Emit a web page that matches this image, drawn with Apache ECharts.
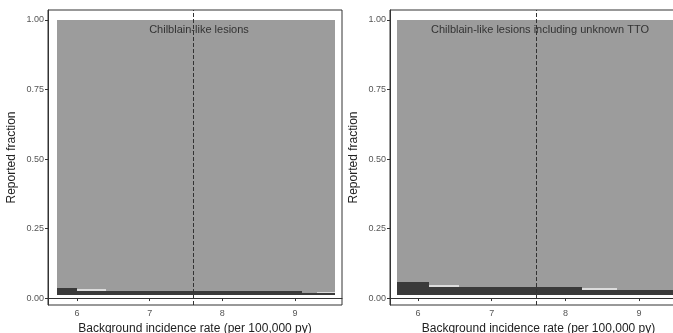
<!DOCTYPE html>
<html>
<head>
<meta charset="utf-8">
<script src="https://cdn.jsdelivr.net/npm/echarts@6/dist/echarts.min.js"></script>
<style>html,body{margin:0;padding:0;background:#fff}#c{width:673px;height:333px}</style>
</head>
<body>
<div id="c"></div>
<script>
// Panel titles
const panelTitles = ["Chilblain-like lesions", "Chilblain-like lesions including unknown TTO"];
const xTicks = [6, 7, 8, 9];
const yTicks = [0, 0.25, 0.5, 0.75, 1];
const refLine = 7.6;
const fillBase = 0.01;

// Left panel: step edges (n+1) and band top levels per step (n)
const edgesA = [5.72, 6.0, 6.4, 9.1, 9.3, 9.55];
const grayA = [1, 1, 1, 1, 1];
const lightA = [0.036, 0.033, 0.025, 0.018, 0.022];
const darkA = [0.036, 0.025, 0.025, 0.018, 0.018];

// Right panel
const edgesB = [5.71, 6.15, 6.55, 8.22, 8.7, 9.55];
const grayB = [1, 1, 1, 1, 1];
const lightB = [0.057, 0.047, 0.039, 0.036, 0.029];
const darkB = [0.057, 0.039, 0.039, 0.029, 0.029];

const FONT = "Liberation Sans";
// each step i spans [edges[i], edges[i+1]] from fillBase up to ys[i]
const steps = (edges, ys) => ys.map((y, i) => [edges[i], edges[i + 1], fillBase, y]);

function axes(idx, xmin, xmax) {
  return {
    x: {
      type: 'value', gridIndex: idx, min: xmin, max: xmax,
      name: 'Background incidence rate (per 100,000 py)', nameLocation: 'middle', nameGap: 13,
      nameTextStyle: {fontFamily: FONT, fontSize: 12, color: '#222'},
      axisLine: {show: true, lineStyle: {color: '#333'}},
      axisTick: {show: true, length: 3, customValues: xTicks, lineStyle: {color: '#333'}},
      axisLabel: {customValues: xTicks, fontFamily: FONT, fontSize: 9, color: '#555', margin: 4},
      splitLine: {show: false}
    },
    y: {
      type: 'value', gridIndex: idx, min: -0.025, max: 1.036,
      name: 'Reported fraction', nameLocation: 'middle', nameGap: 30, nameRotate: 90,
      nameTextStyle: {fontFamily: FONT, fontSize: 12, color: '#222'},
      axisLine: {show: true, lineStyle: {color: '#333'}},
      axisTick: {show: true, length: 3, customValues: yTicks, lineStyle: {color: '#333'}},
      axisLabel: {customValues: yTicks, formatter: v => v.toFixed(2), fontFamily: FONT, fontSize: 9, color: '#555', margin: 4},
      splitLine: {show: false}
    }
  };
}

function band(idx, edges, ys, color, withLine) {
  const s = {
    type: 'custom', xAxisIndex: idx, yAxisIndex: idx, silent: true, clip: true,
    data: steps(edges, ys),
    encode: {x: [0, 1], y: [2, 3]},
    renderItem: function (params, api) {
      const p0 = api.coord([api.value(0), api.value(3)]);
      const p1 = api.coord([api.value(1), api.value(2)]);
      const x0 = Math.round(p0[0]), x1 = Math.round(p1[0]);
      const y0 = Math.round(p0[1]), y1 = Math.round(p1[1]);
      return {
        type: 'rect',
        shape: {x: x0, y: y0, width: x1 - x0, height: y1 - y0},
        style: {fill: color}
      };
    },
    animation: false
  };
  if (withLine) {
    s.markLine = {
      silent: true, symbol: 'none', label: {show: false},
      lineStyle: {type: 'dashed', color: '#333', width: 1},
      data: [{xAxis: refLine}]
    };
  }
  return s;
}

const a = axes(0, 5.6, 9.647);
const b = axes(1, 5.62, 9.65);

const chart = echarts.init(document.getElementById('c'));
chart.setOption({
  animation: false,
  backgroundColor: '#fff',
  title: [
    {text: panelTitles[0], left: 194, top: 19, textAlign: 'center', textStyle: {fontFamily: FONT, fontSize: 11, fontWeight: 'normal', color: '#333'}},
    {text: panelTitles[1], left: 535, top: 19, textAlign: 'center', textStyle: {fontFamily: FONT, fontSize: 11, fontWeight: 'normal', color: '#333'}}
  ],
  grid: [
    {left: 48, top: 10, width: 294, bottom: 28, outerBoundsMode: 'none', containLabel: false, show: true, borderColor: '#333', borderWidth: 1, backgroundColor: 'transparent'},
    {left: 390, top: 10, width: 297, bottom: 28, outerBoundsMode: 'none', containLabel: false, show: true, borderColor: '#333', borderWidth: 1, backgroundColor: 'transparent'}
  ],
  xAxis: [a.x, b.x],
  yAxis: [a.y, b.y],
  series: [
    band(0, edgesA, grayA, '#9c9c9c', true),
    band(0, edgesA, lightA, '#dcdcdc', false),
    band(0, edgesA, darkA, '#3a3a3a', false),
    band(1, edgesB, grayB, '#9c9c9c', true),
    band(1, edgesB, lightB, '#dcdcdc', false),
    band(1, edgesB, darkB, '#3a3a3a', false)
  ]
});
</script>
</body>
</html>
